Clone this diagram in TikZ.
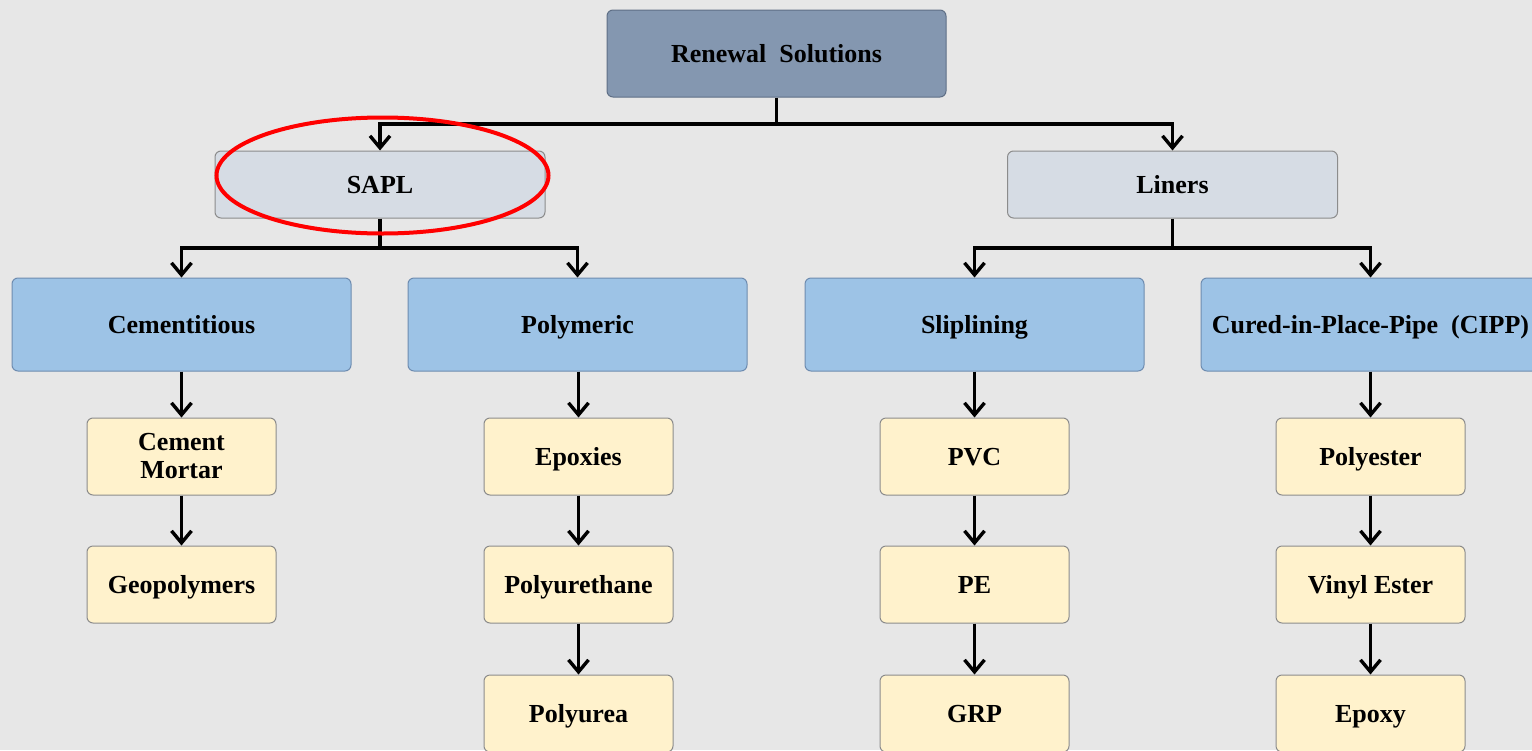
\documentclass[tikz,border=0pt]{standalone}
\usepackage{fontspec}
\setmainfont{Liberation Serif}
\usetikzlibrary{arrows.meta,positioning}
\definecolor{bg}{HTML}{E7E7E7}
\definecolor{rootfill}{HTML}{8497B0}
\definecolor{rootedge}{HTML}{5F6F86}
\definecolor{l1fill}{HTML}{D6DCE4}
\definecolor{l1edge}{HTML}{8C8C8C}
\definecolor{l2fill}{HTML}{9DC3E6}
\definecolor{l2edge}{HTML}{6E8CB0}
\definecolor{l3fill}{HTML}{FFF2CC}
\definecolor{l3edge}{HTML}{8C8C8C}
\tikzset{
  boxbase/.style={rounded corners=3pt, line width=0.5pt, align=center, font=\fontsize{13}{14}\selectfont\bfseries, inner sep=2pt},
  box/.style={boxbase, text height=10.5pt, text depth=2pt},
  rootbox/.style={box, fill=rootfill, draw=rootedge, minimum width=169.5pt, minimum height=43.5pt},
  lvlone/.style={box, fill=l1fill, draw=l1edge, minimum width=165pt, minimum height=33.5pt},
  lvltwo/.style={box, fill=l2fill, draw=l2edge, minimum width=169.5pt, minimum height=46.5pt},
  lvlthreebase/.style={fill=l3fill, draw=l3edge, minimum width=94.5pt, minimum height=38.5pt},
  lvlthree/.style={box, lvlthreebase},
  lvlthreetwo/.style={boxbase, lvlthreebase},
  arr/.style={line width=1.7pt, -{Straight Barb[length=6pt, width=10pt, line width=1.7pt]}},
  conn/.style={line width=1.7pt},
}
\begin{document}
\begin{tikzpicture}[x=0.5pt, y=-0.5pt]
\useasboundingbox (0,0) rectangle (1532,750);
\fill[bg] (0,0) rectangle (1532,750);
\clip (0,0) rectangle (1532,750);
% nodes
\node[rootbox] (root) at (776.5,53.5) {Renewal\ \ Solutions};
\node[lvlone] (sapl) at (380,184.5) {SAPL};
\node[lvlone] (liners) at (1172.5,184.5) {Liners};
\node[lvltwo] (cem) at (181.5,324.5) {Cementitious};
\node[lvltwo] (poly) at (577.5,324.5) {Polymeric};
\node[lvltwo] (slip) at (974.5,324.5) {Sliplining};
\node[lvltwo] (cipp) at (1370.5,324.5) {Cured-in-Place-Pipe\ \ (CIPP)};
\node[lvlthreetwo] (cm) at (181.5,456.5) {Cement\\Mortar};
\node[lvlthree] (geo) at (181.5,584.5) {Geopolymers};
\node[lvlthree] (epx) at (578.5,456.5) {Epoxies};
\node[lvlthree] (pu) at (578.5,584.5) {Polyurethane};
\node[lvlthree] (pua) at (578.5,713.5) {Polyurea};
\node[lvlthree] (pvc) at (974.5,456.5) {PVC};
\node[lvlthree] (pe) at (974.5,584.5) {PE};
\node[lvlthree] (grp) at (974.5,713.5) {GRP};
\node[lvlthree] (pest) at (1370.5,456.5) {Polyester};
\node[lvlthree] (vin) at (1370.5,584.5) {Vinyl Ester};
\node[lvlthree] (epy) at (1370.5,713.5) {Epoxy};
% connectors
\coordinate (rj) at (776.5,124);
\draw[conn] (root.south) -- (rj);
\draw[arr] (rj) -| (sapl.north);
\draw[arr] (rj) -| (liners.north);
\coordinate (sj) at (380,248);
\draw[conn] (sapl.south) -- (sj);
\draw[arr] (sj) -| (cem.north);
\draw[arr] (sj) -| (poly.north);
\coordinate (lj) at (1172.5,248);
\draw[conn] (liners.south) -- (lj);
\draw[arr] (lj) -| (slip.north);
\draw[arr] (lj) -| (cipp.north);
\draw[arr] (cem.south) -- (cm.north);
\draw[arr] (cm.south) -- (geo.north);
\draw[arr] (poly.south -| epx.north) -- (epx.north);
\draw[arr] (epx.south) -- (pu.north);
\draw[arr] (pu.south) -- (pua.north);
\draw[arr] (slip.south) -- (pvc.north);
\draw[arr] (pvc.south) -- (pe.north);
\draw[arr] (pe.south) -- (grp.north);
\draw[arr] (cipp.south) -- (pest.north);
\draw[arr] (pest.south) -- (vin.north);
\draw[arr] (vin.south) -- (epy.north);
% highlight
\draw[red, line width=2pt] (382.5,175.5) ellipse [x radius=166, y radius=58];
\end{tikzpicture}
\end{document}
